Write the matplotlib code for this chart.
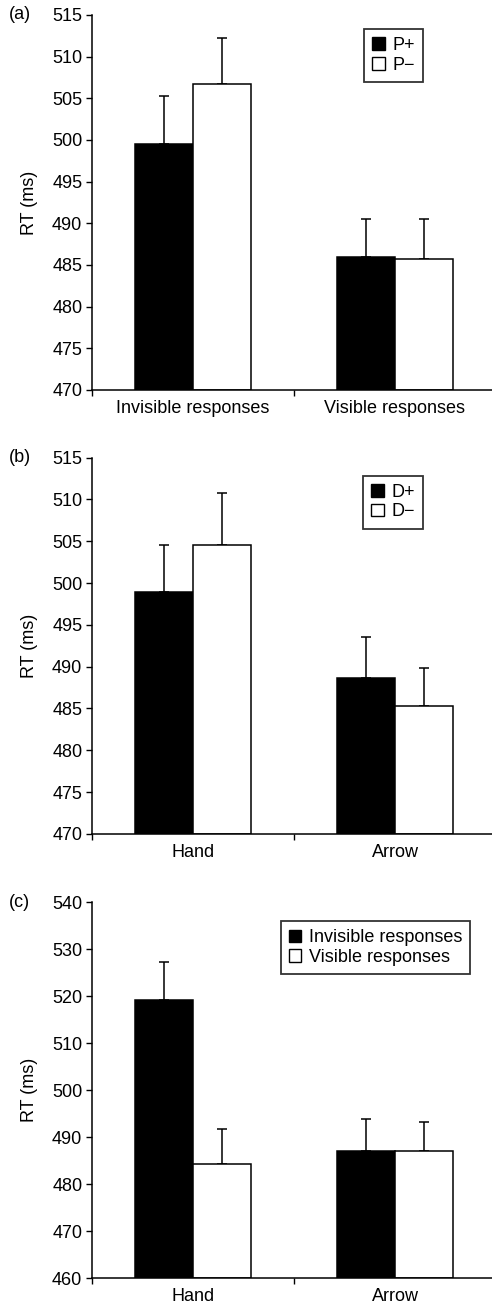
import matplotlib.pyplot as plt
import numpy as np
from matplotlib.patches import Patch

plt.rcParams['font.family'] = ['Liberation Sans', 'DejaVu Sans']

# (a) prime type x response visibility
cats_a = ['Invisible responses', 'Visible responses']
a_pos = [499.5, 485.9]
a_neg = [506.7, 485.7]
a_pos_err = [5.8, 4.6]
a_neg_err = [5.5, 4.8]

# (b) distractor x cue type
cats_b = ['Hand', 'Arrow']
b_pos = [498.9, 488.7]
b_neg = [504.6, 485.3]
b_pos_err = [5.7, 4.8]
b_neg_err = [6.2, 4.6]

# (c) response visibility x cue type
cats_c = ['Hand', 'Arrow']
c_inv = [519.1, 487.0]
c_vis = [484.3, 487.0]
c_inv_err = [8.2, 6.9]
c_vis_err = [7.5, 6.1]

W, H = 492, 1310
fig = plt.figure(figsize=(W / 100, H / 100), dpi=100)

x = np.arange(2)
w = 0.287
fs = 13


def panel(rect, cats, v1, e1, v2, e2, labels, ylim, yticks, tag, leg_anchor):
    ax = fig.add_axes(rect)
    for xs, v, e, col in [(x - w / 2, v1, e1, 'black'), (x + w / 2, v2, e2, 'white')]:
        ax.bar(xs, np.array(v) - ylim[0], w, bottom=ylim[0], color=col,
               edgecolor='black', linewidth=1.1, zorder=2)
        ax.errorbar(xs, v, yerr=[np.zeros(2), e], fmt='none', ecolor='black',
                    elinewidth=1.1, capsize=3.6, capthick=1.1, zorder=1)
    ax.set_xlim(-0.5, 1.5)
    ax.set_ylim(*ylim)
    ax.set_yticks(yticks)
    ax.tick_params(axis='y', labelsize=fs, length=4, width=1, direction='out', pad=3)
    ax.set_xticks([-0.5, 0.5, 1.5])
    ax.set_xticklabels([])
    ax.tick_params(axis='x', which='major', length=4, width=1, direction='out')
    ax.set_xticks(x, minor=True)
    ax.set_xticklabels(cats, minor=True)
    ax.tick_params(axis='x', which='minor', length=0, labelsize=fs, pad=7)
    for s in ['top', 'right']:
        ax.spines[s].set_visible(False)
    for s in ['left', 'bottom']:
        ax.spines[s].set_linewidth(1.1)
    ax.set_ylabel('RT (ms)', fontsize=fs, labelpad=10)
    ax.text(-0.205, 1.0, tag, transform=ax.transAxes, fontsize=fs,
            ha='left', va='center')
    handles = [Patch(facecolor='black', edgecolor='black', label=labels[0]),
               Patch(facecolor='white', edgecolor='black', label=labels[1])]
    leg = ax.legend(handles=handles, loc='upper right', bbox_to_anchor=leg_anchor,
                    fontsize=fs, frameon=True, fancybox=False, edgecolor='black',
                    handlelength=0.7, handleheight=0.7, handletextpad=0.4,
                    labelspacing=0.15, borderpad=0.45, borderaxespad=0)
    leg.get_frame().set_linewidth(1.3)
    return ax


left = 92 / W
width = 404 / W
panel([left, 0.7023, width, 0.2863], cats_a, a_pos, a_pos_err, a_neg, a_neg_err,
      ['P+', 'P\u2212'], (470, 515), range(470, 516, 5), '(a)', (0.819, 0.963))
panel([left, 0.3634, width, 0.2873], cats_b, b_pos, b_pos_err, b_neg, b_neg_err,
      ['D+', 'D\u2212'], (470, 515), range(470, 516, 5), '(b)', (0.819, 0.952))
panel([left, 0.0244, width, 0.2870], cats_c, c_inv, c_inv_err, c_vis, c_vis_err,
      ['Invisible responses', 'Visible responses'], (460, 540), range(460, 541, 10),
      '(c)', (0.936, 0.949))

fig.savefig('out.png', dpi=100)
